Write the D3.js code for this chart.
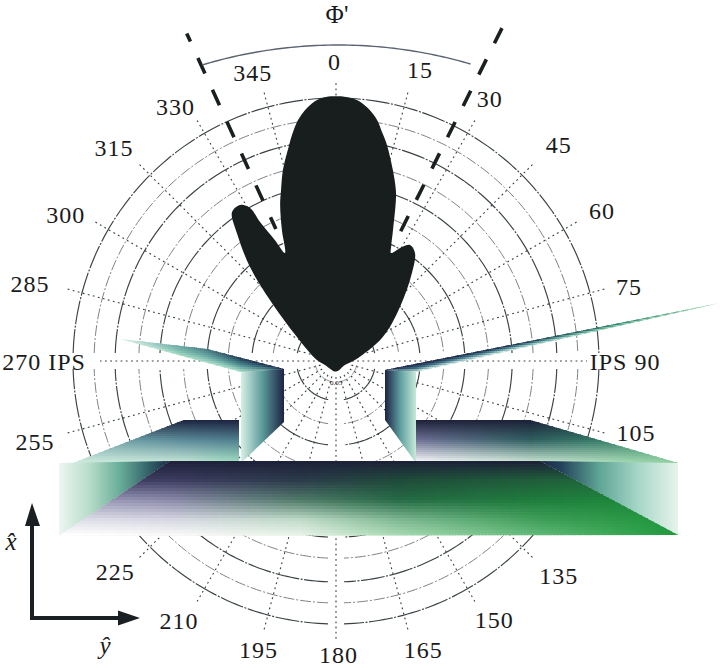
<!DOCTYPE html>
<html><head><meta charset="utf-8">
<script src="https://cdnjs.cloudflare.com/ajax/libs/d3/7.8.5/d3.min.js"></script>
<style>html,body{margin:0;background:#fff}svg{display:block}text{font-family:"Liberation Serif",serif;fill:#1a1a1a}</style>
</head><body><svg id="c" width="720" height="668"></svg>
<script>
const ringValues=[.08,.15,.24,.32,.41,.49,.58,.67,.75,.84,.92,1];
const spokeAngles=[0,15,30,45,60,75,90,105,120,135,150,165,180,195,210,225,240,255,270,285,300,315,330,345];
const labelTexts=["0","15","30","45","60","75","IPS 90","105","135","150","165","180","195","210","225","255","270 IPS","285","300","315","330","345"];
const labelThetas=[-.3,16.1,30.4,45.9,60.6,75.8,90.2,103.5,134,148.6,163.2,179.5,195,211.1,226.3,254.9,269.8,284.1,298.4,313.8,327.7,343.9];
const labelRadii=[1.137,1.152,1.156,1.18,1.161,1.149,1.099,1.173,1.178,1.154,1.148,1.117,1.137,1.155,1.161,1.185,1.11,1.2,1.168,1.17,1.142,1.14];
const beamAngles=[-24.5,26.5];
const lobeAngles=[0,2.1,4.4,6.9,9.3,10.9,12.7,15.8,18.3,19.3,22,24,25,28,30.4,33.8,37.8,45,54,60,56,180,-61,-60,-48.9,-42.9,-39.6,-35.7,-33.2,-30,-27.8,-27,-25,-23.4,-21,-18.6,-16.9,-14.8,-11.7,-10.2,-8.6,-6.3,-4,-2.1];
const lobeRadii=[1.045,1.043,1.033,1.007,.967,.925,.881,.794,.725,.689,.579,.515,.495,.534,.556,.54,.471,.344,.22,.083,.041,.002,.048,.084,.197,.369,.513,.646,.722,.729,.701,.636,.549,.489,.574,.666,.719,.79,.878,.923,.965,1.006,1.033,1.043];

const W=263,cx=336,cy=361;
const svg=d3.select("#c");
const defs=svg.append("defs");
const rScale=d3.scaleLinear().domain([0,1]).range([0,W]);
const rad=d=>d*Math.PI/180;
const plot=svg.append("g").attr("transform",`translate(${cx},${cy})`);

// rings with gaps at the 90, 180 and 270 spokes
const radial=d3.lineRadial().angle(d=>rad(d[0])).radius(d=>d[1]);
ringValues.forEach((v,i)=>{
  const r=rScale(v),gap=Math.min(8,r*.2)/r*180/Math.PI;
  const dark=(ringValues.length-1-i)%2===0;
  [[-90+gap,90-gap],[90+gap,180-gap],[180+gap,270-gap]].forEach(([a,b])=>{
    const pts=d3.range(a,b+.01,(b-a)/80).map(t=>[t,r]);
    plot.append("path").attr("d",radial(pts)).attr("fill","none")
      .attr("stroke",dark?"#3a4245":"#777c7d").attr("stroke-width",dark?1.15:.95)
      .attr("stroke-dasharray",dark?"24 1.5 2 1.5":"11 2 2 2");
  });
});
// spokes
spokeAngles.forEach(a=>{
  const end=a===270?236:a===90?251:281;
  const [x1,y1]=d3.pointRadial(rad(a),16),[x2,y2]=d3.pointRadial(rad(a),end);
  plot.append("line").attr("x1",x1).attr("y1",y1).attr("x2",x2).attr("y2",y2)
    .attr("stroke","#3a3e42").attr("stroke-width",1.1).attr("stroke-dasharray","1.8 3.4");
});
// beam direction
beamAngles.forEach((a,i)=>{
  const [x1,y1]=d3.pointRadial(rad(a),i?372:360),[x2,y2]=d3.pointRadial(rad(a),145);
  plot.append("line").attr("x1",x1).attr("y1",y1).attr("x2",x2).attr("y2",y2)
    .attr("stroke","#1a1f20").attr("stroke-width",3.6)
    .attr("stroke-dasharray","17 18").attr("stroke-dashoffset",i?0:8);
});
plot.append("text").attr("x",0).attr("y",23.5).attr("text-anchor","middle")
  .style("font-size","7px").attr("fill","#333").text("0.05");
// pattern
const lobes=d3.lineRadial().angle((d,i)=>rad(lobeAngles[i])).radius(d=>rScale(d)).curve(d3.curveCatmullRomClosed.alpha(.5));
svg.append("path").attr("transform",`translate(${cx},371)`).attr("d",lobes(lobeRadii)).attr("fill","#181e1e");

// Φ' scale arc
const arcR=472;
svg.append("path").attr("transform",`translate(338,517)`)
  .attr("d",radial(d3.range(-16.7,16.71,.5).map(t=>[t,arcR])))
  .attr("fill","none").attr("stroke","#5a6470").attr("stroke-width",1.4);
svg.append("text").attr("x",337).attr("y",23).attr("text-anchor","middle").style("font-size","25px").text("Φ'");

// labels
labelTexts.forEach((t,i)=>{
  const [x,y]=d3.pointRadial(rad(labelThetas[i]),rScale(labelRadii[i]));
  svg.append("text").attr("x",cx+x).attr("y",cy+y).attr("dy",".33em").attr("text-anchor","middle")
    .style("font-size","24px").style("letter-spacing","1px").text(t);
});

// shaded faces
let clipN=0;
function mesh(poly,xs,ys,colors,cell,vmap){
  const id="f"+(clipN++);
  defs.append("clipPath").attr("id",id).append("polygon").attr("points",poly.join(" "));
  const rows=colors.map(c=>d3.scaleLinear().domain(xs).range(c).interpolate(d3.interpolateRgb).clamp(true));
  const g=svg.append("g").attr("clip-path",`url(#${id})`);
  const [x0,x1]=d3.extent(poly,p=>p[0]),[y0,y1]=d3.extent(poly,p=>p[1]);
  for(let x=Math.floor(x0);x<x1;x+=cell){
    const col=rows.map(s=>s(x+cell/2));
    const vs=d3.scaleLinear().domain(ys).range(col).interpolate(d3.interpolateRgb).clamp(true);
    for(let y=Math.floor(y0);y<y1;y+=cell){
      const v=vmap?vmap(x+cell/2,y+cell/2):y+cell/2;
      g.append("rect").attr("x",x).attr("y",y).attr("width",cell+.6).attr("height",cell+.6)
       .attr("fill",vs(v)).attr("shape-rendering","crispEdges");
    }
  }
}
function hgrad(id,x1,x2,stops){
  const g=defs.append("linearGradient").attr("id",id).attr("gradientUnits","userSpaceOnUse")
    .attr("x1",x1).attr("x2",x2).attr("y1",0).attr("y2",0);
  stops.forEach(([o,c])=>g.append("stop").attr("offset",o).attr("stop-color",c));
}
function face(poly,id){svg.append("polygon").attr("points",poly.join(" ")).attr("fill",`url(#${id})`);}

const navy="#1c2038";
// left fin
const lfTop=d3.scaleLinear().domain([120,207,284]).range([339,349,369]);
const lfBot=d3.scaleLinear().domain([120,241,284]).range([339,372,369]);
mesh([[120,339],[207,349],[284,369],[241,372]],[120,180,241,284],[0,.5,1],[
 ["#e0f0ec","#6aa8a4","#1f3a54","#1c2244"],
 ["#d8efe6","#7fbdb0","#4a8a90","#2a4a68"],
 ["#e0f4ea","#a8dcc4","#b0e4cc","#3a6a7a"]],2,(x,y)=>(y-lfTop(x))/Math.max(1,lfBot(x)-lfTop(x)));
// right fin
const rfTop=d3.scaleLinear().domain([385,720]).range([370,303]);
const rfBot=d3.scaleLinear().domain([385,416,720]).range([370,372,303]);
mesh([[385,370],[720,303],[416,372]],[385,416,520,620,720],[0,.5,1],[
 ["#1c2244","#1c2244","#1c2a48","#2a7a68","#9ad8b0"],
 ["#2a4a68","#3a6a80","#5a98a0","#60b090","#b0e0c0"],
 ["#3a6070","#d8f0e8","#d8f0e8","#a8dcc0","#c8eccc"]],2,(x,y)=>(y-rfTop(x))/Math.max(1,rfBot(x)-rfTop(x)));
// walls
hgrad("wl",241,284,[[0,"#d8f0e4"],[.5,"#5a9a9a"],[1,"#1c2244"]]);
face([[241,372],[284,369],[284,422],[241,463]],"wl");
hgrad("wr",385,416,[[0,"#1c2244"],[.5,"#5fa0a0"],[1,"#c8ead8"]]);
face([[385,370],[416,372],[416,463],[385,420]],"wr");
// slabs
mesh([[184,420],[239,420],[239,463],[73,463]],[73,184,239],[420,440,463],[
 [navy,"#1c2440","#1c2240"],
 ["#7fb0b0","#5a8a98","#4f7f8f"],
 ["#d0ece0","#c8e8d8","#a0e0c0"]],2);
mesh([[416,420],[530,420],[678,463],[416,463]],[416,530,678],[420,440,463],[
 [navy,navy,"#1f5a50"],
 ["#6f7095","#2f5f60","#3f9a70"],
 ["#ffffff","#d0ead8","#8fd0a0"]],2);
// front box
hgrad("bl",59,170,[[0,"#eef6f2"],[.28,"#b6dcc8"],[.55,"#68ad98"],[.82,"#2f5e66"],[1,"#1c2a44"]]);
face([[59,463],[170,461],[59,536]],"bl");
hgrad("br",540,678,[[0,"#1c2a44"],[.15,"#23405a"],[.43,"#5fa596"],[.72,"#a8d8c8"],[1,"#e8f3ec"]]);
face([[540,461],[678,463],[678,535]],"br");
mesh([[170,461],[540,461],[678,535],[59,536]],[59,170,300,400,540,677],[461,480,500,520,535],[
 [navy,navy,navy,navy,navy,navy],
 ["#3c3c60","#3c3c60","#2b3a4a","#1f4a3a","#205e3a","#20703c"],
 ["#a0a0bc","#8c8aaa","#4f7a68","#256a45","#1e7d3c","#1d8c3c"],
 ["#e0e0ea","#d8d8e4","#c0dcc8","#7fb893","#3f9f58","#1f953c"],
 ["#ffffff","#f8f8f8","#e8f2e8","#a5d8b0","#60b878","#1f9a3c"]],3);

// coordinate arrows
const ink="#1a1f24";
svg.append("line").attr("x1",32).attr("y1",620).attr("x2",32).attr("y2",520).attr("stroke",ink).attr("stroke-width",4);
svg.append("line").attr("x1",30).attr("y1",618).attr("x2",122).attr("y2",618).attr("stroke",ink).attr("stroke-width",4);
svg.append("polygon").attr("points","32,503 25,526 40,526").attr("fill",ink);
svg.append("polygon").attr("points","140,618 118,610.5 118,625.5").attr("fill",ink);
svg.append("text").attr("x",11).attr("y",550).attr("text-anchor","middle").style("font-size","25px").style("font-style","italic").text("x\u0302");
svg.append("text").attr("x",105).attr("y",654).attr("text-anchor","middle").style("font-size","25px").style("font-style","italic").text("y\u0302");
</script></body></html>
